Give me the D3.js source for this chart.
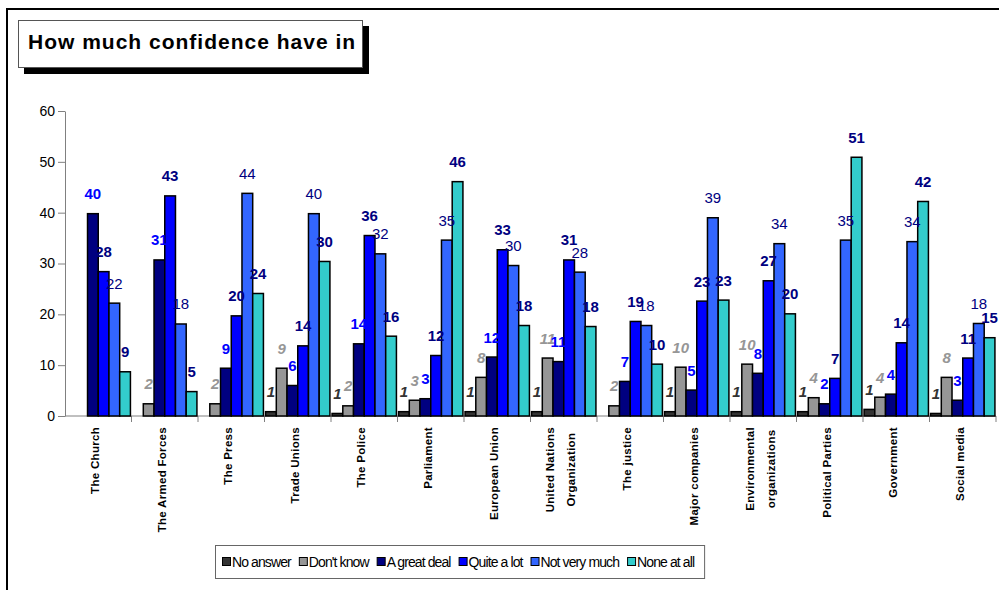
<!DOCTYPE html>
<html>
<head>
<meta charset="utf-8">
<script src="https://cdn.jsdelivr.net/npm/d3@7"></script>
<style>
  html, body { margin: 0; padding: 0; background: #fff; }
  svg { display: block; font-family: "Liberation Sans", Arial, sans-serif; }
</style>
</head>
<body>
<svg id="chart" width="999" height="590"></svg>
<script>
const categories = ["The Church", "The Armed Forces", "The Press", "Trade Unions", "The Police",
  "Parliament", "European Union", "United Nations\nOrganization", "The justice", "Major companies",
  "Environmental\norganizations", "Political Parties", "Government", "Social media"];
const seriesNames = ["No answer", "Don't know", "A great deal", "Quite a lot", "Not very much", "None at all"];
const noAnswer    = [null, null, null, 0.85, 0.5, 0.85, 0.85, 0.85, null, 0.85, 0.85, 0.85, 1.3, 0.5];
const dontKnow    = [null, 2.4, 2.4, 9.4, 2.0, 3.1, 7.6, 11.4, 2.0, 9.6, 10.2, 3.6, 3.7, 7.6];
const greatDeal   = [39.8, 30.7, 9.4, 6.0, 14.2, 3.4, 11.6, 10.7, 6.8, 5.1, 8.4, 2.4, 4.3, 3.1];
const quiteALot   = [28.4, 43.3, 19.7, 13.8, 35.5, 11.9, 32.7, 30.7, 18.6, 22.6, 26.6, 7.4, 14.4, 11.4];
const notVeryMuch = [22.2, 18.1, 43.8, 39.8, 31.9, 34.6, 29.6, 28.3, 17.8, 39.0, 33.9, 34.6, 34.3, 18.2];
const noneAtAll   = [8.7, 4.8, 24.1, 30.4, 15.7, 46.1, 17.8, 17.6, 10.2, 22.8, 20.1, 50.9, 42.2, 15.4];
const yTicks = [0, 10, 20, 30, 40, 50, 60];
const titleText = "How much confidence have in";

const seriesValues = [noAnswer, dontKnow, greatDeal, quiteALot, notVeryMuch, noneAtAll];
const barColors   = ["#333333", "#969696", "#000080", "#0000FF", "#3366FF", "#33CCCC"];
const labelColors = ["#333333", "#969696", "#0000FF", "#000080", "#000080", "#000080"];
const labelWeight = ["bold", "bold", "bold", "bold", "normal", "bold"];
const labelStyle  = ["italic", "italic", "normal", "normal", "normal", "normal"];

const svg = d3.select("#chart");

// outer frame
svg.append("rect").attr("x", 7).attr("y", 9).attr("width", 1100).attr("height", 700)
  .attr("fill", "none").attr("stroke", "#000").attr("stroke-width", 2);

// title box with shadow
svg.append("rect").attr("x", 24).attr("y", 26).attr("width", 345).attr("height", 48).attr("fill", "#000");
svg.append("rect").attr("x", 18.5).attr("y", 20.5).attr("width", 344).attr("height", 47)
  .attr("fill", "#fff").attr("stroke", "#555").attr("stroke-width", 1);
svg.append("text").attr("x", 28).attr("y", 49).attr("font-size", 21).attr("font-weight", "bold")
  .attr("letter-spacing", 1).attr("fill", "#000").text(titleText);

const plotLeft = 65, plotRight = 996, plotTop = 111, plotBottom = 416;
const x = d3.scaleBand().domain(categories).range([plotLeft, plotRight]).paddingInner(0).paddingOuter(0);
const xs = d3.scaleBand().domain(d3.range(seriesNames.length))
  .range([0, x.bandwidth()]).paddingInner(0).paddingOuter(0.1);
const y = d3.scaleLinear().domain([0, 60]).range([plotBottom, plotTop]);

// y axis
const yAxis = svg.append("g").attr("transform", `translate(${plotLeft},0)`)
  .call(d3.axisLeft(y).tickValues(yTicks).tickSize(7).tickSizeOuter(0).tickPadding(3));
yAxis.select(".domain").attr("stroke", "#808080");
yAxis.selectAll(".tick line").attr("stroke", "#808080");
yAxis.selectAll(".tick text").attr("font-size", 14).attr("fill", "#000")
  .attr("font-family", "Liberation Sans, Arial, sans-serif");

// x axis line + ticks at band boundaries
svg.append("line").attr("x1", plotLeft).attr("x2", plotRight).attr("y1", plotBottom).attr("y2", plotBottom)
  .attr("stroke", "#808080");
svg.selectAll(".xtick").data(categories).enter().append("line")
  .attr("x1", d => x(d) + x.bandwidth()).attr("x2", d => x(d) + x.bandwidth())
  .attr("y1", plotBottom).attr("y2", plotBottom + 6).attr("stroke", "#808080");

// bars
const groups = svg.selectAll(".cat").data(categories).enter().append("g")
  .attr("transform", d => `translate(${x(d)},0)`);

groups.each(function(cat, ci) {
  const g = d3.select(this);
  seriesValues.forEach((vals, si) => {
    const v = vals[ci];
    if (v == null) return;
    g.append("rect")
      .attr("x", xs(si)).attr("y", y(v))
      .attr("width", xs.bandwidth()).attr("height", y(0) - y(v))
      .attr("fill", barColors[si]).attr("stroke", "#000").attr("stroke-width", 1.5);
  });
});
groups.each(function(cat, ci) {
  const g = d3.select(this);
  seriesValues.forEach((vals, si) => {
    const v = vals[ci];
    if (v == null) return;
    g.append("text")
      .attr("x", xs(si) + xs.bandwidth() / 2).attr("y", y(v) - 20)
      .attr("text-anchor", "middle").attr("dominant-baseline", "central")
      .attr("font-size", 15).attr("font-weight", labelWeight[si]).attr("font-style", labelStyle[si])
      .attr("fill", labelColors[si]).text(Math.round(v));
  });
});

// category labels (rotated)
categories.forEach(cat => {
  const lines = cat.split("\n");
  const cx = x(cat) + x.bandwidth() / 2;
  const g = svg.append("g");
  const texts = lines.map((ln, i) => g.append("text")
    .attr("font-size", 11.5).attr("font-weight", "bold").attr("fill", "#000")
    .attr("letter-spacing", 0.3).text(ln));
  const lens = texts.map(t => t.node().getComputedTextLength());
  const maxLen = d3.max(lens);
  const top = plotBottom + 11;
  if (lines.length === 1) {
    texts[0].attr("text-anchor", "end")
      .attr("transform", `translate(${cx - 3},${top}) rotate(-90)`).attr("dy", "0.35em");
  } else {
    texts.forEach((t, i) => {
      const off = (i - (lines.length - 1) / 2) * 21 - 3;
      t.attr("text-anchor", "middle")
        .attr("transform", `translate(${cx + off},${top + maxLen / 2}) rotate(-90)`).attr("dy", "0.35em");
    });
  }
});

// legend
const legend = svg.append("g");
let lx = 222;
const ly = 562;
seriesNames.forEach((name, i) => {
  legend.append("rect").attr("x", lx + 0.5).attr("y", ly - 4.5).attr("width", 8).attr("height", 8)
    .attr("fill", barColors[i]).attr("stroke", "#000").attr("stroke-width", 1);
  const t = legend.append("text").attr("x", lx + 10).attr("y", ly).attr("dy", "0.35em")
    .attr("font-size", 14).attr("letter-spacing", -0.9).attr("fill", "#000").text(name);
  lx = lx + 10 + t.node().getComputedTextLength() + 8;
});
const legendRight = lx - 8 + 10;
legend.insert("rect", ":first-child").attr("x", 215.5).attr("y", 545.5)
  .attr("width", legendRight - 215).attr("height", 33)
  .attr("fill", "#fff").attr("stroke", "#666").attr("stroke-width", 1);
</script>
</body>
</html>
